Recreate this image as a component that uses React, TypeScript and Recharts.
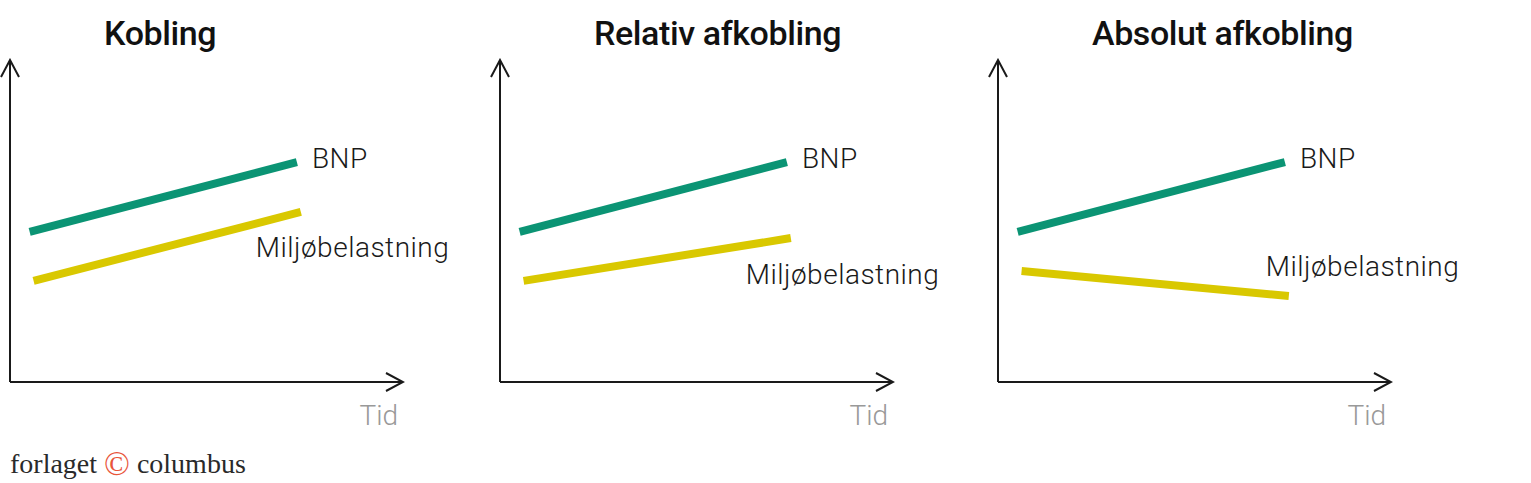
import React from "react";
import { LineChart, Line, XAxis, YAxis, LabelList } from "recharts";

// x positions (share of the time axis) and index values (share of the y axis)
const panelTitles = ["Kobling", "Relativ afkobling", "Absolut afkobling"];
const bnpTime = [5, 73];
const miljoTime = [6, 74];
const bnpValues = [
  [46.6, 68.3],
  [46.6, 68.3],
  [46.6, 68.3],
];
const miljoValues = [
  [31.4, 52.8],
  [31.4, 44.7],
  [34.5, 26.7],
];
const seriesNames = ["BNP", "Miljøbelastning"];
const axisLabel = "Tid";

const TEAL = "#0b9474";
const YELLOW = "#d9c800";
const AXIS = "#1a1a1a";
const FONT = "Roboto, 'Noto Sans', sans-serif";

// label offsets relative to the last point of each line (per panel)
const miljoLabelPos = [
  { dx: -45, dy: 45 },
  { dx: -45, dy: 46 },
  { dx: -23, dy: -20 },
];

const W = 490;
const H = 483;
const panelLeft = [0, 490, 988];

function rows(times: number[], values: number[]) {
  return times.map((t, i) => ({ t, v: values[i] }));
}

function endLabel(text: string, dx: number, dy: number) {
  return (props: any) => {
    if (props.index !== 1) return null;
    return (
      <text
        x={props.x + dx}
        y={props.y + dy}
        textAnchor="start"
        fontFamily={FONT}
        fontWeight={300}
        fontSize={28}
        letterSpacing={0.5}
        fill="#1a1a1a"
      >
        {text}
      </text>
    );
  };
}

function Panel({ p }: { p: number }) {
  const bnp = rows(bnpTime, bnpValues[p]);
  const miljo = rows(miljoTime, miljoValues[p]);
  const mid = `arrow-${p}`;
  return (
    <div style={{ position: "absolute", left: panelLeft[p], top: 0, width: W, height: H }}>
      <div
        style={{
          position: "absolute",
          left: 104,
          top: 13,
          fontFamily: FONT,
          fontWeight: 500,
          fontSize: 34,
          color: "#111",
          whiteSpace: "nowrap",
          letterSpacing: -0.4,
        }}
      >
        {panelTitles[p]}
      </div>
      <LineChart width={W} height={H} margin={{ top: 60, left: 9, right: W - 403, bottom: 53 }}>
        <defs>
          <marker
            id={mid}
            viewBox="-1 -11 20 22"
            refX={17}
            refY={0}
            markerWidth={20}
            markerHeight={22}
            markerUnits="userSpaceOnUse"
            orient="auto-start-reverse"
          >
            <path d="M0,-9 L17,0 L0,9" fill="none" stroke={AXIS} strokeWidth={2} />
          </marker>
        </defs>
        <XAxis
          type="number"
          dataKey="t"
          domain={[0, 100]}
          height={48}
          tick={false}
          tickLine={false}
          axisLine={{ stroke: AXIS, strokeWidth: 2, markerEnd: `url(#${mid})` }}
          allowDataOverflow
          label={{
            value: axisLabel,
            position: "insideBottomRight",
            offset: 5,
            fill: "#999",
            fontFamily: FONT,
            fontWeight: 300,
            fontSize: 28,
          }}
        />
        <YAxis
          type="number"
          domain={[0, 100]}
          width={1}
          tick={false}
          tickLine={false}
          allowDataOverflow
          axisLine={{ stroke: AXIS, strokeWidth: 2, markerStart: `url(#${mid})` }}
        />
        <Line
          data={bnp}
          dataKey="v"
          isAnimationActive={false}
          stroke={TEAL}
          strokeWidth={8}
          dot={false}
          activeDot={false}
          type="linear"
        >
          <LabelList dataKey="v" content={endLabel(seriesNames[0], 15, 6)} />
        </Line>
        <Line
          data={miljo}
          dataKey="v"
          isAnimationActive={false}
          stroke={YELLOW}
          strokeWidth={8}
          dot={false}
          activeDot={false}
          type="linear"
        >
          <LabelList dataKey="v" content={endLabel(seriesNames[1], miljoLabelPos[p].dx, miljoLabelPos[p].dy)} />
        </Line>
      </LineChart>
    </div>
  );
}

export default function App() {
  return (
    <div style={{ position: "absolute", left: 0, top: 0, width: 1531, height: 483, background: "#fff", overflow: "hidden" }}>
      {[0, 1, 2].map((p) => (
        <Panel key={p} p={p} />
      ))}
      <div
        style={{
          position: "absolute",
          left: 10,
          top: 447,
          height: 34,
          lineHeight: "34px",
          fontFamily: "'Liberation Serif', 'DejaVu Serif', serif",
          fontSize: 28,
          color: "#2a2a2a",
          whiteSpace: "nowrap",
        }}
      >
        forlaget{" "}
        <span style={{ color: "#e8553a", fontSize: 34, lineHeight: "34px", verticalAlign: "top" }}>©</span> columbus
      </div>
    </div>
  );
}
